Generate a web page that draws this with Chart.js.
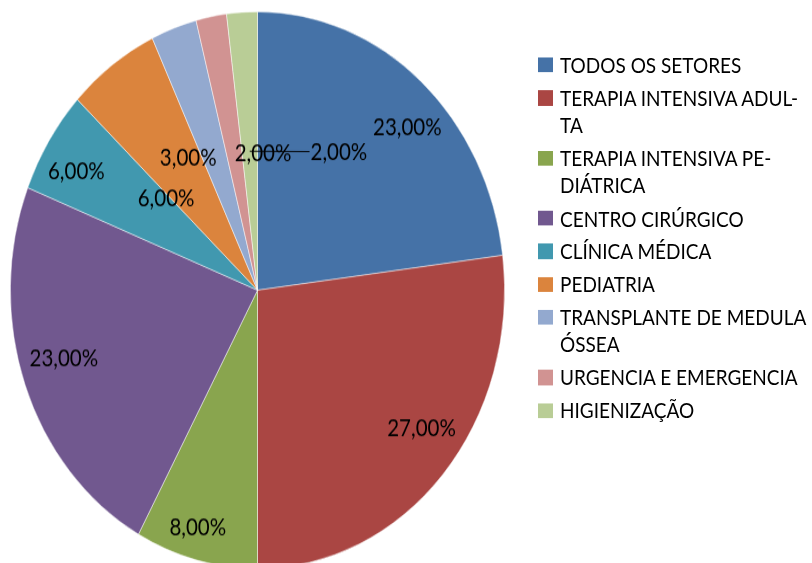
<!DOCTYPE html>
<html>
<head>
<meta charset="utf-8">
<script src="https://cdn.jsdelivr.net/npm/chart.js@4.4.1/dist/chart.umd.min.js"></script>
<style>
  html, body { margin: 0; padding: 0; background: #fff; overflow: hidden; }
  body { width: 812px; height: 563px; position: relative; }
  /* the reference is stretched vertically, so draw flat and stretch the whole stage */
  #stage { position: absolute; left: 0; top: 0; width: 812px; height: 520px;
           transform-origin: 0 0; transform: scaleY(1.127); }
  #chartBox { position: absolute; left: 0; top: 0; width: 812px; height: 520px; }
  #legend { position: absolute; left: 538px; top: 45.7px; font-family: Lato, sans-serif;
            font-size: 19px; letter-spacing: 0; color: #000; }
  .item { display: flex; align-items: flex-start; margin-bottom: 5.3px; line-height: 24px; white-space: nowrap; }
  .box { width: 15px; height: 13.3px; margin-top: 5.5px; margin-right: 7px; flex: none; }
</style>
</head>
<body>
<div id="stage">
  <div id="chartBox"><canvas id="pie"></canvas></div>
  <div id="legend"></div>
</div>
<script>
const categories = [
  'TODOS OS SETORES',
  'TERAPIA INTENSIVA ADULTA',
  'TERAPIA INTENSIVA PEDIÁTRICA',
  'CENTRO CIRÚRGICO',
  'CLÍNICA MÉDICA',
  'PEDIATRIA',
  'TRANSPLANTE DE MEDULA ÓSSEA',
  'URGENCIA E EMERGENCIA',
  'HIGIENIZAÇÃO'
];
const values = [23, 27, 8, 23, 6, 6, 3, 2, 2];

// legend text as it wraps in the reference
const legendLines = [
  ['TODOS OS SETORES'],
  ['TERAPIA INTENSIVA ADUL-', 'TA'],
  ['TERAPIA INTENSIVA PE-', 'DIÁTRICA'],
  ['CENTRO CIRÚRGICO'],
  ['CLÍNICA MÉDICA'],
  ['PEDIATRIA'],
  ['TRANSPLANTE DE MEDULA', 'ÓSSEA'],
  ['URGENCIA E EMERGENCIA'],
  ['HIGIENIZAÇÃO']
];

const colors = ['#4572A7', '#AA4643', '#89A54E', '#71588F', '#4198AF',
                '#DB843D', '#93A9CF', '#D19392', '#B9CD96'];

// where each value label sits: shift from slice middle (deg) and fraction of radius
const labelShift  = [4.6, -4.8, 1.5, 2.5, -2, -12.1, -10.6, 13.4, 37.1];
const labelRadius = [0.843, 0.827, 0.882, 0.821, 0.85, 0.497, 0.554, 0.496, 0.597];
const hasLeader   = [false, false, false, false, false, false, false, false, true];

function fmt(v) {
  return v.toFixed(2).replace('.', ',') + '%';
}

const sliceLabels = {
  id: 'sliceLabels',
  afterDatasetsDraw(chart) {
    const ctx = chart.ctx;
    const meta = chart.getDatasetMeta(0);
    ctx.save();
    ctx.font = '20.5px Lato, sans-serif';
    ctx.fillStyle = '#000';
    ctx.strokeStyle = '#000';
    ctx.lineWidth = 1;
    ctx.textAlign = 'center';
    ctx.textBaseline = 'middle';
    meta.data.forEach((arc, i) => {
      const p = arc.getProps(['x', 'y', 'startAngle', 'endAngle', 'outerRadius'], true);
      const mid = (p.startAngle + p.endAngle) / 2;
      const a = mid + labelShift[i] * Math.PI / 180;
      const r = p.outerRadius * labelRadius[i];
      const lx = p.x + Math.cos(a) * r;
      const ly = p.y + Math.sin(a) * r;
      const text = fmt(values[i]);
      if (hasLeader[i]) {
        const w = ctx.measureText(text).width;
        const ax = p.x + Math.cos(mid) * p.outerRadius * 0.5;
        const ay = p.y + Math.sin(mid) * p.outerRadius * 0.5;
        ctx.beginPath();
        ctx.moveTo(ax, ay);
        ctx.lineTo(lx - w / 2 - 1, ly);
        ctx.stroke();
      }
      ctx.fillText(text, lx, ly + 1);
    });
    ctx.restore();
  }
};

new Chart(document.getElementById('pie'), {
  type: 'pie',
  data: {
    labels: categories,
    datasets: [{
      data: values,
      backgroundColor: colors,
      borderColor: 'rgba(255,255,255,0.6)',
      borderWidth: 0.8
    }]
  },
  options: {
    responsive: true,
    maintainAspectRatio: false,
    animation: false,
    layout: { padding: { left: 10, right: 307, top: 10, bottom: 15 } },
    plugins: {
      legend: { display: false },
      tooltip: { enabled: false }
    }
  },
  plugins: [sliceLabels]
});

// html legend so the wrapped names stay real text
const legendEl = document.getElementById('legend');
legendLines.forEach((lines, i) => {
  const item = document.createElement('div');
  item.className = 'item';
  const box = document.createElement('div');
  box.className = 'box';
  box.style.background = colors[i];
  const txt = document.createElement('div');
  txt.innerHTML = lines.join('<br>');
  item.appendChild(box);
  item.appendChild(txt);
  legendEl.appendChild(item);
});
</script>
</body>
</html>
